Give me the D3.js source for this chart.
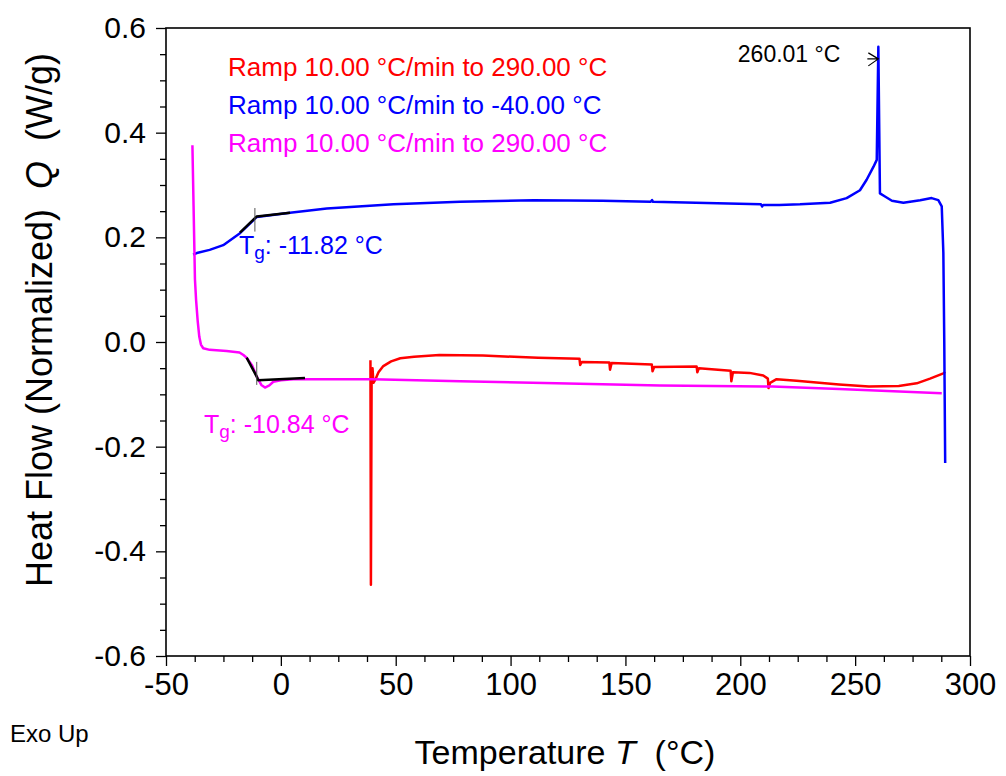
<!DOCTYPE html>
<html><head><meta charset="utf-8">
<script src="https://cdn.jsdelivr.net/npm/d3@7"></script>
<style>
body{margin:0;background:#fff}
text{font-family:"Liberation Sans",Arial,Helvetica,sans-serif}
</style>
</head><body>
<svg id="c" width="1006" height="776"></svg>
<script>
// ---------- data ----------
const xMajorTicks = [-50, 0, 50, 100, 150, 200, 250, 300];
const yMajorTicks = [-0.6, -0.4, -0.2, 0.0, 0.2, 0.4, 0.6];
const xTickLabels = ["-50", "0", "50", "100", "150", "200", "250", "300"];
const yTickLabels = ["-0.6", "-0.4", "-0.2", "0.0", "0.2", "0.4", "0.6"];

// red: first heating ramp to 290 °C  [T, Q]
const redCurve = [
  [39.0,-0.035],[39.2,-0.464],[39.5,-0.080],[39.9,-0.050],[40.3,-0.078],[41.0,-0.073],
  [42.5,-0.058],[44.6,-0.046],[48,-0.037],[52,-0.031],[58,-0.028],[69,-0.025],[88,-0.026],
  [112,-0.030],[130,-0.032],[130.3,-0.044],[131,-0.038],[143,-0.039],[143.3,-0.053],[144,-0.040],
  [161.5,-0.043],[161.8,-0.056],[162.5,-0.048],[181,-0.047],[181.3,-0.058],[182,-0.050],
  [195.8,-0.055],[196.1,-0.075],[196.8,-0.058],[204,-0.059],[210,-0.064],[212,-0.070],
  [212.3,-0.088],[213,-0.078],[215.8,-0.071],[224.5,-0.074],[243,-0.081],[256,-0.085],
  [269,-0.084],[276.8,-0.079],[282.6,-0.070],[288.4,-0.060],[289.2,-0.057]
];
// blue: cooling ramp to -40 °C
const blueCurve = [
  [289.2,-0.231],[288.8,0.000],[288.4,0.170],[287.7,0.259],[286.2,0.271],[283.3,0.275],
  [278.3,0.271],[271.0,0.266],[266,0.270],[263.0,0.278],[260.8,0.284],[260.1,0.564],
  [259.4,0.348],[258.0,0.335],[255.0,0.310],[252.1,0.290],[246.3,0.275],[239.1,0.266],
  [226,0.263],[217,0.262],[210,0.262],[209.5,0.259],[209,0.263],[190,0.265],[162,0.268],
  [161.6,0.271],[161,0.268],[140,0.270],[110,0.271],[78,0.268],[49,0.263],[20,0.255],
  [4,0.247],[-10.5,0.239],[-17.8,0.208],[-25.1,0.185],[-31,0.176],[-36.6,0.170],[-38.2,0.167]
];
// magenta: second heating ramp to 290 °C
const magentaCurve = [
  [-38.5,0.376],[-38.0,0.26],[-37.4,0.12],[-36.9,0.08],[-36.2,0.04],[-35.5,0.010],
  [-34.8,-0.005],[-33.8,-0.012],[-31,-0.015],[-23.6,-0.017],[-18,-0.020],[-16.3,-0.025],
  [-14.9,-0.030],[-12.5,-0.045],[-10.5,-0.066],[-8.5,-0.082],[-6.9,-0.087],[-5,-0.083],
  [-3.3,-0.076],[0,-0.073],[5.4,-0.071],[25.7,-0.071],[40,-0.071],[78,-0.075],[120,-0.079],
  [165,-0.083],[214,-0.085],[243,-0.090],[287.7,-0.098]
];
// Tg tangent constructions (black)
const blueTgLine = [[-17.8,0.209],[-10.5,0.240],[4,0.247]];
const magentaTgLine = [[-14.9,-0.030],[-10.5,-0.066],[-9.9,-0.073],[10.5,-0.069]];
const tgMarkers = [[-11.3,0.256,0.211],[-10.5,-0.038,-0.082]];
const peakArrowTip = [260.1, 0.541];

const legendItems = [
  {text:"Ramp 10.00 °C/min to 290.00 °C", color:"#ff0000"},
  {text:"Ramp 10.00 °C/min to -40.00 °C", color:"#0000ff"},
  {text:"Ramp 10.00 °C/min to 290.00 °C", color:"#ff00ff"}
];

// ---------- drawing ----------
const svg = d3.select("#c");
const L = 166, R = 970, T = 28, B = 656;
const x = d3.scaleLinear().domain([-50,300]).range([L,R]);
const y = d3.scaleLinear().domain([-0.6,0.6]).range([B,T]);

const xMinor = d3.range(-50, 300.01, 12.5).filter(v => !xMajorTicks.includes(v));
const yMinor = d3.range(-0.6, 0.601, 0.05).map(v => +v.toFixed(2)).filter(v => !yMajorTicks.some(m => Math.abs(m-v)<1e-6));

function styleAxis(g){
  g.select(".domain").remove();
  g.selectAll("line").attr("stroke","#000").attr("stroke-width",1.3);
}
const FONT = '"Liberation Sans",Arial,sans-serif';
// minor ticks
svg.append("g").attr("transform",`translate(0,${B})`)
  .call(d3.axisBottom(x).tickValues(xMinor).tickSize(6).tickFormat(""))
  .call(styleAxis);
svg.append("g").attr("transform",`translate(${L},0)`)
  .call(d3.axisLeft(y).tickValues(yMinor).tickSize(6).tickFormat(""))
  .call(styleAxis);
// major ticks
const xa = svg.append("g").attr("transform",`translate(0,${B})`)
  .call(d3.axisBottom(x).tickValues(xMajorTicks).tickSize(10).tickPadding(7)
    .tickFormat((d,i)=>xTickLabels[i]))
  .call(styleAxis);
xa.selectAll("text").attr("font-size",31).attr("fill","#000").style("font-family",FONT);
const ya = svg.append("g").attr("transform",`translate(${L},0)`)
  .call(d3.axisLeft(y).tickValues(yMajorTicks).tickSize(10).tickPadding(10)
    .tickFormat((d,i)=>yTickLabels[i]))
  .call(styleAxis);
ya.selectAll("text").attr("font-size",30).attr("fill","#000").style("font-family",FONT);

// frame
svg.append("rect").attr("x",L).attr("y",T).attr("width",R-L).attr("height",B-T)
  .attr("fill","none").attr("stroke","#000").attr("stroke-width",1.6);

const line = d3.line().x(d=>x(d[0])).y(d=>y(d[1]));
const plot = svg.append("g");
plot.append("path").datum(redCurve).attr("d",line).attr("fill","none")
  .attr("stroke","#ff0000").attr("stroke-width",2.5).attr("stroke-linejoin","round");
plot.append("path").datum(blueCurve).attr("d",line).attr("fill","none")
  .attr("stroke","#0000ff").attr("stroke-width",2.5).attr("stroke-linejoin","round");
plot.append("path").datum(magentaCurve).attr("d",line).attr("fill","none")
  .attr("stroke","#ff00ff").attr("stroke-width",2.5).attr("stroke-linejoin","round");
[blueTgLine, magentaTgLine].forEach(d=>{
  plot.append("path").datum(d).attr("d",line).attr("fill","none")
    .attr("stroke","#000").attr("stroke-width",2.5).attr("stroke-linejoin","round");
});
tgMarkers.forEach(m=>{
  plot.append("line").attr("x1",x(m[0])).attr("x2",x(m[0]))
    .attr("y1",y(m[1])).attr("y2",y(m[2])).attr("stroke","#555").attr("stroke-width",1);
});

// peak arrow
const px = x(peakArrowTip[0]), py = y(peakArrowTip[1]);
svg.append("path").attr("d",`M${px-11},${py}L${px},${py}M${px-10},${py-6}L${px},${py}L${px-10},${py+7}`)
  .attr("fill","none").attr("stroke","#000").attr("stroke-width",1.2);
svg.append("text").attr("x",px-38).attr("y",py+3).attr("text-anchor","end")
  .attr("font-size",23).attr("fill","#000").text("260.01 °C");

// legend
legendItems.forEach((d,i)=>{
  svg.append("text").attr("x",228).attr("y",76+i*38).attr("font-size",26)
    .attr("fill",d.color).text(d.text);
});

// Tg labels
function tgLabel(xp, yp, color, val){
  const t = svg.append("text").attr("x",xp).attr("y",yp).attr("font-size",25).attr("fill",color);
  t.append("tspan").text("T");
  t.append("tspan").attr("font-size",19).attr("dy",5).text("g");
  t.append("tspan").attr("dy",-5).text(": " + val);
}
tgLabel(239, 254, "#0000ff", "-11.82 °C");
tgLabel(204, 433, "#ff00ff", "-10.84 °C");

// axis titles
const xt = svg.append("text").attr("x",565).attr("y",764).attr("text-anchor","middle")
  .attr("font-size",34).attr("fill","#000").attr("xml:space","preserve");
xt.append("tspan").text("Temperature ");
xt.append("tspan").attr("font-style","italic").text("T");
xt.append("tspan").text("  (°C)");

const yt = svg.append("text").attr("transform","translate(52,320) rotate(-90)")
  .attr("text-anchor","middle").attr("font-size",36).attr("fill","#000").attr("xml:space","preserve");
yt.append("tspan").text("Heat Flow (Normalized)  ");
yt.append("tspan").attr("font-style","italic").text("Q");
yt.append("tspan").text("  (W/g)");

svg.append("text").attr("x",10).attr("y",742).attr("font-size",24).attr("fill","#000").text("Exo Up");
</script>
</body></html>
